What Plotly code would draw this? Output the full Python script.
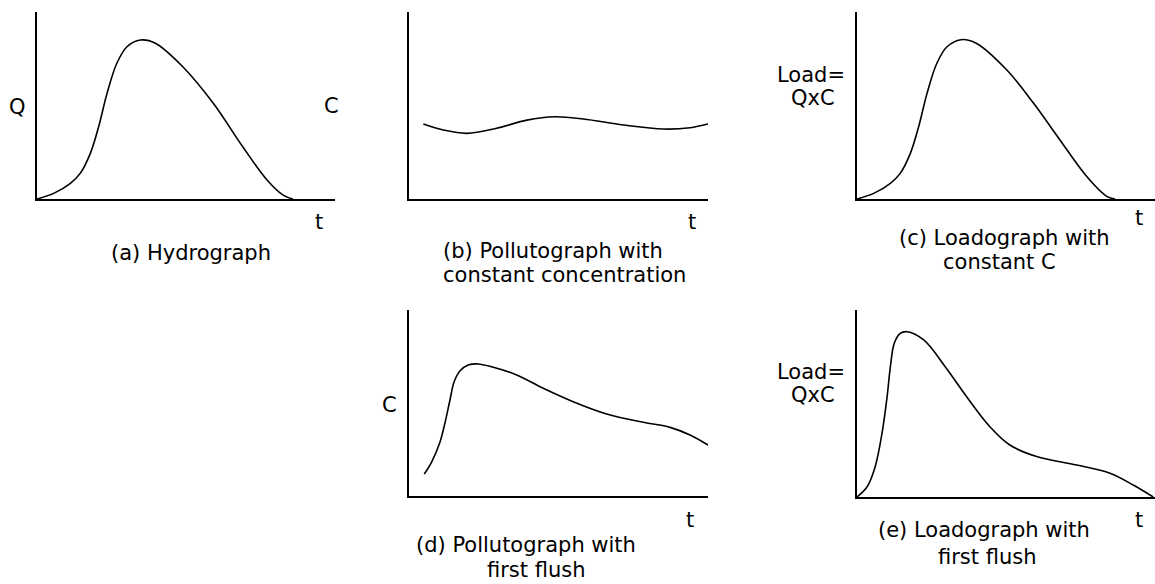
import plotly.graph_objects as go

W, H = 1155, 584

# ---- data (normalised t 0..100, value 0..100 per panel) ----
hydro_t = [0, 5.6, 11.2, 14.5, 17.9, 20.7, 23.5, 26.8, 30.2, 34.7, 39.7, 49.0, 59.1, 69.1, 77.2, 82.6, 85.9]
hydro_q = [0, 3.0, 8.4, 13.7, 24.4, 38.7, 56.5, 72.6, 81.4, 85.0, 83.3, 70.6, 51.3, 27.8, 10.2, 2.1, 0]

poll_const_t = [4.8, 11.5, 19.3, 29.3, 39.4, 48.8, 58.3, 71.7, 85.1, 94.0, 100]
poll_const_c = [40.1, 36.9, 35.1, 37.8, 42.2, 44.0, 42.8, 39.6, 37.4, 38.1, 40.1]

load_const_t = [0, 5.6, 11.2, 14.5, 17.9, 20.7, 23.5, 26.8, 30.2, 34.9, 40.0, 50.2, 59.2, 68.1, 77.1, 83.8, 86.6]
load_const_l = [0, 3.0, 8.4, 13.7, 24.4, 38.7, 56.5, 72.6, 81.4, 85.2, 83.3, 69.1, 51.3, 31.6, 12.0, 1.4, 0]

poll_ff_t = [5.1, 7.6, 10.4, 12.0, 13.7, 15.1, 17.1, 19.8, 23.1, 27.6, 36.0, 44.9, 54.9, 66.1, 78.4, 87.3, 94.0, 100]
poll_ff_c = [11.8, 18.4, 29.2, 39.1, 51.6, 61.4, 67.3, 70.4, 71.0, 69.5, 65.1, 57.9, 50.7, 44.1, 39.6, 36.9, 32.8, 27.4]

load_ff_t = [0, 3.4, 6.1, 8.4, 10.1, 11.2, 12.5, 14.5, 16.8, 22.4, 29.6, 36.8, 44.6, 51.3, 60.3, 73.7, 84.9, 92.7, 99.4]
load_ff_l = [0, 5.5, 16.2, 34.1, 53.6, 69.7, 82.2, 87.5, 88.4, 84.0, 69.7, 53.6, 37.6, 27.8, 21.6, 17.1, 12.7, 6.4, 0]

# ---- layout helpers ----
def px(x):
    return x / W

def py(y):
    return 1 - y / H

FONT = dict(family="DejaVu Sans", size=21, color="black")

# panel boxes in pixels: (x0, x1, ytop, ybottom)
panels = [
    (37, 335, 12, 199),
    (409, 708, 12, 199),
    (857, 1155, 12, 199),
    (409, 708, 310, 496),
    (857, 1155, 310, 497),
]
series = [
    (hydro_t, hydro_q),
    (poll_const_t, poll_const_c),
    (load_const_t, load_const_l),
    (poll_ff_t, poll_ff_c),
    (load_ff_t, load_ff_l),
]

fig = go.Figure()
layout = dict(
    width=W, height=H,
    margin=dict(l=0, r=0, t=0, b=0),
    paper_bgcolor="white", plot_bgcolor="rgba(0,0,0,0)",
    showlegend=False,
)

for i, ((x0, x1, yt, yb), (t, v)) in enumerate(zip(panels, series), start=1):
    sfx = "" if i == 1 else str(i)
    fig.add_trace(go.Scatter(
        x=t, y=v, mode="lines",
        line=dict(color="black", width=1.6, shape="spline", smoothing=1.0),
        xaxis="x" + sfx, yaxis="y" + sfx, hoverinfo="skip", cliponaxis=False,
    ))
    common = dict(showgrid=False, zeroline=False, showticklabels=False, ticks="",
                  showline=True, linecolor="black", linewidth=2, fixedrange=True)
    layout["xaxis" + sfx] = dict(domain=[px(x0), min(px(x1), 1.0)], range=[0, 100],
                                 anchor="y" + sfx, **common)
    layout["yaxis" + sfx] = dict(domain=[py(yb), py(yt)], range=[0, 100],
                                 anchor="x" + sfx, **common)

fig.update_layout(**layout)

# ---- text labels (pixel positions) ----
labels = [
    ("Q", 17, 107, "center"),
    ("C", 331, 106, "center"),
    ("t", 319, 222, "center"),
    ("t", 692, 222, "center"),
    ("Load=", 811, 75, "center"),
    ("QxC", 813, 98, "center"),
    ("t", 1139, 218, "center"),
    ("C", 389, 405, "center"),
    ("t", 690, 520, "center"),
    ("Load=", 811, 372, "center"),
    ("QxC", 813, 395, "center"),
    ("t", 1139, 520, "center"),
    ("(a) Hydrograph", 191, 253, "center"),
    ("(b) Pollutograph with", 441, 251, "left"),
    ("constant concentration", 441, 275, "left"),
    ("(c) Loadograph with", 1004, 238, "center"),
    ("constant C", 999, 262, "center"),
    ("(d) Pollutograph with", 526, 545, "center"),
    ("first flush", 536, 570, "center"),
    ("(e) Loadograph with", 984, 530, "center"),
    ("first flush", 987, 557, "center"),
]
for txt, x, y, anc in labels:
    fig.add_annotation(text=txt, x=px(x), y=py(y), xref="paper", yref="paper",
                       xanchor=anc, yanchor="middle", showarrow=False, font=FONT)

fig.write_html("out.html",
               config={"displayModeBar": False, "staticPlot": True},
               post_script="document.body.style.margin='0px';document.body.style.overflow='hidden';")
